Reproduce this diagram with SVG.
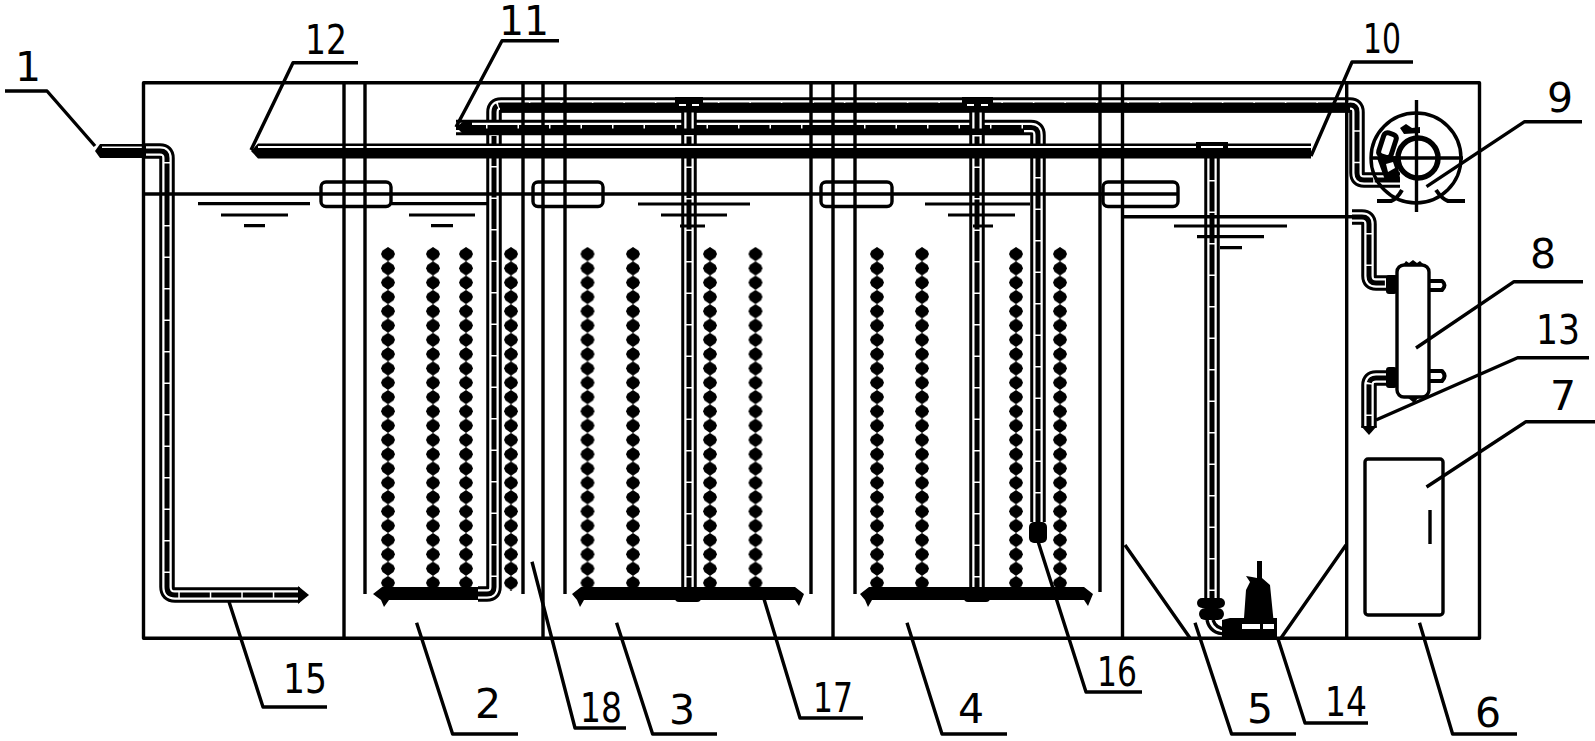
<svg xmlns="http://www.w3.org/2000/svg" width="1595" height="741" viewBox="0 0 1595 741">
<style>
text{font-family:"DejaVu Sans","Liberation Sans",sans-serif;font-size:41px;fill:#000;text-anchor:middle}
.l{fill:none;stroke:#000;stroke-width:3.400;stroke-linejoin:round}
.t{fill:none;stroke:#000;stroke-width:3.200;stroke-linejoin:round}
.po{fill:none;stroke:#000;stroke-width:15.500;stroke-linejoin:round}
.pw{fill:none;stroke:#fff;stroke-width:9.500;stroke-linejoin:round}
.pc{fill:none;stroke:#000;stroke-width:5;stroke-dasharray:30 1.500}
.b{fill:#000;stroke:none}
.w{fill:#fff;stroke:none}
</style>
<defs>
<pattern id="bead" patternUnits="userSpaceOnUse" x="-8" y="247" width="16" height="14.300">
<path d="M8 0L13.500 3.500L15 7L13.500 10.500L8 14.300L2.500 10.500L1 7L2.500 3.500Z" fill="#000"/>
</pattern>
<rect id="beads" x="-8" y="247" width="16" height="344" fill="url(#bead)"/>
<path id="p-main" d="M478 594H487Q494 594 494 587V112Q494 105 501 105H1350Q1357 105 1357 112V173Q1357 180 1364 180H1400"/>
<path id="p-in" d="M145 151H160Q167 151 167 158V587Q167 595 175 595H300"/>
<path id="p-sec" d="M456 127.500H1031Q1038 127.500 1038 135V522"/>
<path id="p-t3" d="M689 105V590"/>
<path id="p-t4" d="M977 105V590"/>
<path id="p-t5" d="M1212 150V598"/>
<path id="p-f1" d="M1352 217H1362Q1369 217 1369 224V276Q1369 283 1376 283H1397"/>
<path id="p-f2" d="M1397 378H1376Q1369 378 1369 385V428"/>
</defs>

<g id="connectors">
<g id="pipes">
<use href="#p-main" class="po"/><use href="#p-main" class="pw"/><use href="#p-main" class="pc"/>
<use href="#p-in" class="po"/><use href="#p-in" class="pw"/><use href="#p-in" class="pc"/>
<use href="#p-sec" class="po"/><use href="#p-sec" class="pw"/><use href="#p-sec" class="pc"/>
<use href="#p-t3" class="po"/><use href="#p-t3" class="pw"/><use href="#p-t3" class="pc"/>
<use href="#p-t4" class="po"/><use href="#p-t4" class="pw"/><use href="#p-t4" class="pc"/>
<use href="#p-t5" class="po"/><use href="#p-t5" class="pw"/><use href="#p-t5" class="pc"/>
<use href="#p-f1" class="po"/><use href="#p-f1" class="pw"/><use href="#p-f1" class="pc"/>
<use href="#p-f2" class="po"/><use href="#p-f2" class="pw"/><use href="#p-f2" class="pc"/>
<!-- horizontal runs -->
<rect class="b" x="500" y="103" width="850" height="9.500"/>
<rect class="b" x="462" y="128.500" width="562" height="6.500"/>
<path class="b" d="M251 151L258 143.500H1311V158.500H258Z"/>
<rect class="w" x="258" y="146" width="1053" height="2"/>
<path class="b" d="M95 151L100 144H146V158H100Z"/>
<rect class="w" x="102" y="146.500" width="40" height="1.500"/>
<path class="b" d="M456 127L464 121L472 120V135H464Z"/>
<path class="b" d="M298 586L309 595L298 604Z"/>
<!-- tee pieces -->
<path class="b" d="M675 97H703V103L697 112H681L675 103Z"/>
<rect class="w" x="679" y="104" width="7" height="2"/><rect class="w" x="692" y="104" width="7" height="2"/>
<path class="b" d="M962 97H993V103L986 112H969L962 103Z"/>
<rect class="w" x="967" y="104" width="7" height="2"/><rect class="w" x="981" y="104" width="7" height="2"/>
<path class="b" d="M1196 142H1228V151L1220 158H1204L1196 151Z"/>
<rect class="w" x="1201" y="146" width="22" height="2"/>
<path class="b" d="M1361 426H1377L1369 435Z"/>
</g>
<g id="leaders">
<path class="l" d="M5 91H47L95 146"/>
<path class="l" d="M358 62.700H293L251 150"/>
<path class="l" d="M559 40.700H502L456 127"/>
<path class="l" d="M1413 62H1352L1311 156"/>
<path class="l" d="M1582 121.700H1524.600L1426.500 186.700"/>
<path class="l" d="M1583 281.700H1514L1416 348"/>
<path class="l" d="M1589 357.700H1517.600L1376 420"/>
<path class="l" d="M1595 421.700H1526L1426.500 487"/>
<path class="l" d="M229 601.700L263 707H327"/>
<path class="l" d="M416.600 622.700L452.600 734H518"/>
<path class="l" d="M532 561.700L575 728H626"/>
<path class="l" d="M616.600 622.700L652.600 734H717"/>
<path class="l" d="M764 599L800 718H863"/>
<path class="l" d="M907 622.700L942 734H1007"/>
<path class="l" d="M1036 535L1086 692H1142"/>
<path class="l" d="M1195 622.700L1231.600 734H1296"/>
<path class="l" d="M1277.700 638L1305 723H1368"/>
<path class="l" d="M1419.500 622.700L1452.600 734H1517"/>
</g>
</g>

<g id="tank">
<rect class="l" x="143.500" y="82.700" width="1336" height="555.500"/>
<path class="l" d="M344 82.700V638M543 82.700V638M833 82.700V638M1122.500 82.700V638M1346.700 82.700V638"/>
<path class="l" d="M365 82.700V594M523 82.700V594M565 82.700V594M811 82.700V594M855 82.700V594M1100 82.700V592"/>
<path class="l" d="M143.500 194H1178"/>
<path class="l" d="M1122.500 216.700H1352"/>
<path class="l" d="M1125 545L1190 638M1346 545L1281 638"/>
<g id="overflow-pipes">
<rect class="l" x="321" y="182" width="70" height="24.500" rx="5"/>
<rect class="l" x="533" y="182" width="70" height="24.500" rx="5"/>
<rect class="l" x="821" y="182" width="71" height="24.500" rx="5"/>
<rect class="l" x="1103" y="182" width="75" height="24.500" rx="5"/>
</g>
<g id="water-levels">
<path class="t" d="M198 203.700H310M221 215H288M244 225.700H265"/>
<path class="t" d="M391 203.700H488M409 215H475M431 225.700H453"/>
<path class="t" d="M638 204H750M661 215H727M680 226H705"/>
<path class="t" d="M925 204H1030M948 215H1015M973 226H993"/>
<path class="t" d="M1174 226H1287M1197 236.700H1264M1220 247.700H1242"/>
</g>
</g>

<g id="n18-media">
<use href="#beads" x="388"/><use href="#beads" x="433"/><use href="#beads" x="466"/><use href="#beads" x="511"/>
<use href="#beads" x="587.500"/><use href="#beads" x="633"/><use href="#beads" x="710"/><use href="#beads" x="755.500"/>
<use href="#beads" x="877"/><use href="#beads" x="922"/><use href="#beads" x="1016"/><use href="#beads" x="1060"/>
</g>

<g id="n17-aerators">
<path class="b" d="M373 594L382 587H478V600H389L384 607L381 600Z"/>
<path class="b" d="M572 594L581 587H795L804 594L799 606L795 600H584L580 607L577 600Z"/>
<rect class="b" x="675" y="587" width="26" height="15" rx="4"/>
<path class="b" d="M860 594L869 587H1084L1093 594L1088 606L1084 600H872L868 607L865 600Z"/>
<rect class="b" x="964" y="587" width="26" height="15" rx="4"/>
</g>

<g id="n16-diffuser">
<rect class="b" x="1029" y="522" width="18" height="21" rx="5"/>
</g>

<g id="n14-pump">
<rect class="b" x="1197" y="598" width="28" height="10" rx="5"/>
<rect class="b" x="1199" y="608" width="25" height="12" rx="6"/>
<path class="l" d="M1207 620Q1210 634 1226 634M1213 620Q1216 629 1226 629"/>
<path class="b" d="M1257 561H1262V578L1270 585L1274 625V632H1243L1246 590L1250 582L1246 576L1252 577L1257 578Z"/>
<path class="b" d="M1222 620L1230 618H1240V638H1222Z"/>
<path class="b" d="M1240 618H1277V638H1240Z"/>
<rect class="w" x="1242" y="624" width="18" height="5"/>
<rect class="w" x="1263" y="624" width="11" height="5"/>
</g>

<g id="n9-blower">
<circle class="l" cx="1416" cy="158" r="45"/>
<circle class="l" cx="1418" cy="158" r="20" style="stroke-width:5.500"/>
<path class="l" d="M1416.500 100V212M1370 158H1463"/>
<path class="l" d="M1377 201H1391Q1397 199 1402 190M1465 201H1448Q1442 199 1436 190" style="stroke-width:4"/>
<path class="b" d="M1400 128L1406 124L1412 128L1420 127V133L1404 134Z"/>
<rect x="1381" y="133" width="13" height="24" rx="4" fill="none" stroke="#000" stroke-width="5" transform="rotate(18 1387 145)"/>
<path class="b" d="M1377 158L1396 156L1400 178L1385 180Z"/>
<path class="w" d="M1386 164L1393 162L1395 168L1388 172Z"/>
</g>

<g id="n8-filter">
<rect class="l" x="1397" y="265" width="32" height="132" rx="7"/>
<path class="b" d="M1403 265L1406 261L1409 263L1413 260L1417 263L1420 261L1424 265Z"/>
<path class="b" d="M1407 397H1419L1414 403Z"/>
<rect class="b" x="1386" y="275" width="11" height="19" rx="3"/>
<rect class="b" x="1386" y="367" width="11" height="21" rx="3"/>
<path class="l" d="M1430 281H1442Q1447 285 1442 290H1430" style="stroke-width:4"/>
<path class="l" d="M1430 371H1442Q1447 376 1442 381H1430" style="stroke-width:4"/>
</g>

<g id="n7-controller">
<rect class="l" x="1365" y="459" width="78" height="156" rx="3"/>
<path class="l" d="M1430 510V544"/>
</g>

<g id="labels">
<text x="28" y="81">1</text>
<text x="326" y="54" textLength="42" lengthAdjust="spacingAndGlyphs">12</text>
<text x="524" y="35" textLength="50" lengthAdjust="spacingAndGlyphs">11</text>
<text x="1382" y="52.700" textLength="38" lengthAdjust="spacingAndGlyphs">10</text>
<text x="1560" y="111.700">9</text>
<text x="1543" y="268">8</text>
<text x="1558" y="344" textLength="44" lengthAdjust="spacingAndGlyphs">13</text>
<text x="1563" y="410">7</text>
<text x="305" y="692.700" textLength="44" lengthAdjust="spacingAndGlyphs">15</text>
<text x="488" y="718">2</text>
<text x="601" y="722" textLength="42" lengthAdjust="spacingAndGlyphs">18</text>
<text x="682" y="724">3</text>
<text x="833" y="712" textLength="40" lengthAdjust="spacingAndGlyphs">17</text>
<text x="971" y="723">4</text>
<text x="1117" y="686" textLength="40" lengthAdjust="spacingAndGlyphs">16</text>
<text x="1260" y="723">5</text>
<text x="1346" y="715.600" textLength="42" lengthAdjust="spacingAndGlyphs">14</text>
<text x="1488" y="727">6</text>
</g>
</svg>
